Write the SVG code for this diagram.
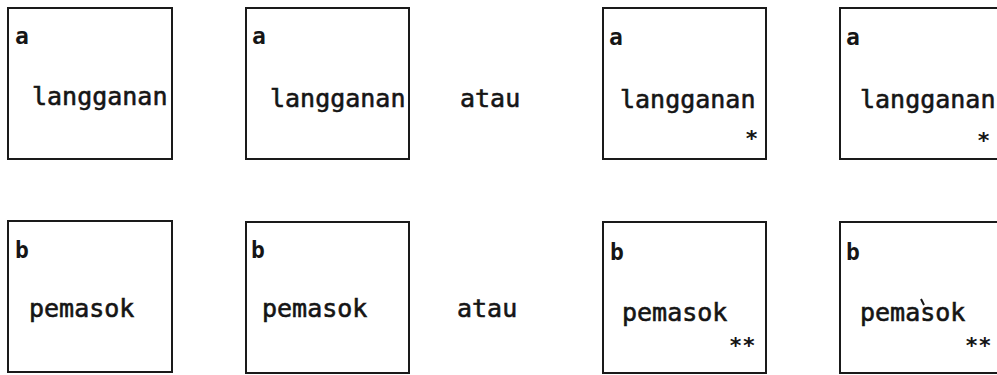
<svg xmlns="http://www.w3.org/2000/svg" width="997" height="375" viewBox="0 0 997 375">
<style>
.box{fill:#fff;stroke:#1a1a1a;stroke-width:2}
.t{font-family:"DejaVu Sans Mono","Liberation Mono",monospace;font-size:25px;fill:#151515;stroke:#151515;stroke-width:0.6}
.lbl{font-family:"DejaVu Sans Mono","Liberation Mono",monospace;font-size:23px;font-weight:bold;fill:#151515}
.star{font-family:"DejaVu Sans Mono","Liberation Mono",monospace;font-size:22px;font-weight:bold;fill:#151515}
</style>
<rect width="997" height="375" fill="#fff"/>
<g id="a1">
<rect class="box" x="8" y="8" width="164" height="151"/>
<text class="lbl" x="15" y="44">a</text>
<text class="t" x="32" y="105">langganan</text>
</g>
<g id="a2">
<rect class="box" x="246" y="8" width="163" height="151"/>
<text class="lbl" x="252" y="44">a</text>
<text class="t" x="270" y="107">langganan</text>
</g>
<text id="atau1" class="t" x="460" y="107">atau</text>
<g id="a3">
<rect class="box" x="603" y="8" width="163" height="151"/>
<text class="lbl" x="609" y="45">a</text>
<text class="t" x="620" y="108">langganan</text>
<text class="star" x="745" y="146">*</text>
</g>
<g id="a4">
<rect class="box" x="840" y="8" width="163" height="151"/>
<text class="lbl" x="846" y="45">a</text>
<text class="t" x="860" y="108">langganan</text>
<text class="star" x="977" y="148">*</text>
</g>
<g id="b1">
<rect class="box" x="8" y="221" width="164" height="151"/>
<text class="lbl" x="15" y="258">b</text>
<text class="t" x="29" y="317">pemasok</text>
</g>
<g id="b2">
<rect class="box" x="246" y="222" width="163" height="151"/>
<text class="lbl" x="251" y="258">b</text>
<text class="t" x="262" y="317">pemasok</text>
</g>
<text id="atau2" class="t" x="457" y="317">atau</text>
<g id="b3">
<rect class="box" x="603" y="222" width="163" height="151"/>
<text class="lbl" x="610" y="260">b</text>
<text class="t" x="622" y="321">pemasok</text>
<text class="star" x="729" y="353">**</text>
</g>
<g id="b4">
<rect class="box" x="840" y="222" width="163" height="151"/>
<text class="lbl" x="846" y="260">b</text>
<text class="t" x="860" y="321">pemasok</text>
<path d="M921 299 L924 305" stroke="#151515" stroke-width="2" fill="none"/>
<text class="star" x="965" y="353">**</text>
</g>
</svg>
